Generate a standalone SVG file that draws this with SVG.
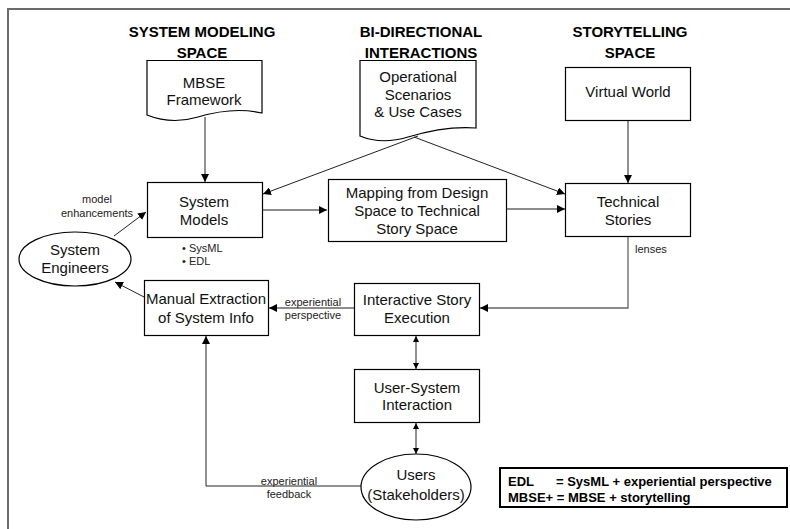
<svg xmlns="http://www.w3.org/2000/svg" width="790" height="529" viewBox="0 0 790 529">
  <style>
    .box { fill: #fff; stroke: #000; stroke-width: 1.2; }
    .lbl { font-family: "Liberation Sans", Arial, sans-serif; font-size: 15px; fill: #111; text-anchor: middle; }
    .hdr { font-family: "Liberation Sans", Arial, sans-serif; font-size: 15px; font-weight: bold; fill: #000; text-anchor: middle; }
    .small { font-family: "Liberation Sans", Arial, sans-serif; font-size: 11px; fill: #222; text-anchor: middle; }
    .start { text-anchor: start; }
    .leg { font-family: "Liberation Sans", Arial, sans-serif; font-size: 13px; font-weight: bold; fill: #000; }
    .conn { fill: none; stroke: #222; stroke-width: 1; }
    .grey { fill: none; stroke: #666; stroke-width: 1.3; }
  </style>
  <defs>
    <marker id="arr" viewBox="0 0 10 10" refX="10" refY="5" markerWidth="8" markerHeight="8" markerUnits="userSpaceOnUse" orient="auto">
      <path d="M0,0 L10,5 L0,10 Z" fill="#000"/>
    </marker>
    <marker id="arrSmall" viewBox="0 0 10 10" refX="10" refY="5" markerWidth="6" markerHeight="6" markerUnits="userSpaceOnUse" orient="auto">
      <path d="M0,0 L10,5 L0,10 Z" fill="#000"/>
    </marker>
    <marker id="arrSmallStart" viewBox="0 0 10 10" refX="0" refY="5" markerWidth="6" markerHeight="6" markerUnits="userSpaceOnUse" orient="auto">
      <path d="M10,0 L0,5 L10,10 Z" fill="#000"/>
    </marker>
  </defs>

  <rect width="790" height="529" fill="#fff"/>
  <!-- outer frame (open to the right and bottom) -->
  <path d="M790,9 H8 V529" fill="none" stroke="#6b6b6b" stroke-width="2"/>

  <!-- column headers -->
  <g id="headers">
    <text class="hdr" x="202" y="37">SYSTEM MODELING</text>
    <text class="hdr" x="202" y="58">SPACE</text>
    <text class="hdr" x="421" y="37">BI-DIRECTIONAL</text>
    <text class="hdr" x="421" y="58">INTERACTIONS</text>
    <text class="hdr" x="630" y="37">STORYTELLING</text>
    <text class="hdr" x="630" y="58">SPACE</text>
  </g>

  <!-- connectors -->
  <g id="connectors">
    <line class="conn" x1="205" y1="117" x2="205" y2="182" marker-end="url(#arr)"/>
    <line class="conn" x1="628" y1="120" x2="628" y2="183" marker-end="url(#arr)"/>
    <line class="conn" x1="418" y1="136" x2="263" y2="194" marker-end="url(#arr)"/>
    <line class="conn" x1="414" y1="137" x2="565" y2="194" marker-end="url(#arr)"/>
    <line class="grey" x1="263" y1="210" x2="327" y2="210" marker-end="url(#arr)"/>
    <line class="grey" x1="507" y1="209" x2="565" y2="209" marker-end="url(#arr)"/>
    <line class="conn" x1="114" y1="236" x2="146" y2="212" marker-end="url(#arr)"/>
    <line class="conn" x1="144" y1="297" x2="115" y2="282" marker-end="url(#arr)"/>
    <polyline class="grey" points="628,237 628,308 480,308" marker-end="url(#arr)"/>
    <line class="grey" x1="354" y1="308" x2="269" y2="308" marker-end="url(#arr)"/>
    <line class="conn" x1="416" y1="336" x2="416" y2="369" marker-start="url(#arrSmallStart)" marker-end="url(#arrSmall)"/>
    <line class="conn" x1="416" y1="423" x2="416" y2="454" marker-start="url(#arrSmallStart)" marker-end="url(#arrSmall)"/>
    <polyline class="conn" points="361,486 206,486 206,336" marker-end="url(#arr)"/>
  </g>

  <!-- connector labels -->
  <g id="connector-labels">
    <text class="small" x="97" y="203">model</text>
    <text class="small" x="97" y="217">enhancements</text>
    <text class="small" x="313" y="306">experiential</text>
    <text class="small" x="313" y="319">perspective</text>
    <text class="small start" x="635" y="253">lenses</text>
    <text class="small" x="289" y="485">experiential</text>
    <text class="small" x="289" y="498">feedback</text>
  </g>

  <g id="mbse-framework">
    <path class="box" d="M147,60.5 H262 V113 C240,108 218,111 198,117 C178,123 162,121 147,115 Z"/>
    <text class="lbl" x="204" y="88">MBSE</text>
    <text class="lbl" x="204" y="105">Framework</text>
  </g>

  <g id="operational-scenarios">
    <path class="box" d="M360,60.5 H476 V128 C450,126 428,131 408,137 C388,143 372,141 360,136 Z"/>
    <text class="lbl" x="418" y="82">Operational</text>
    <text class="lbl" x="418" y="100">Scenarios</text>
    <text class="lbl" x="418" y="117">&amp; Use Cases</text>
  </g>

  <g id="virtual-world">
    <rect class="box" x="565.5" y="67.5" width="125" height="53"/>
    <text class="lbl" x="628" y="97">Virtual World</text>
  </g>

  <g id="system-models">
    <rect class="box" x="147.5" y="182.5" width="115" height="55"/>
    <text class="lbl" x="204" y="207">System</text>
    <text class="lbl" x="204" y="225">Models</text>
  </g>

  <g id="system-models-notes">
    <text class="small start" x="182" y="252">• SysML</text>
    <text class="small start" x="182" y="265">• EDL</text>
  </g>

  <g id="mapping">
    <rect class="box" x="328.5" y="179.5" width="178" height="62"/>
    <text class="lbl" x="417" y="198">Mapping from Design</text>
    <text class="lbl" x="417" y="216">Space to Technical</text>
    <text class="lbl" x="417" y="234">Story Space</text>
  </g>

  <g id="technical-stories">
    <rect class="box" x="565.5" y="183.5" width="125" height="53"/>
    <text class="lbl" x="628" y="207">Technical</text>
    <text class="lbl" x="628" y="225">Stories</text>
  </g>

  <g id="system-engineers">
    <ellipse class="box" cx="75" cy="259" rx="56" ry="27"/>
    <text class="lbl" x="75" y="255">System</text>
    <text class="lbl" x="75" y="273">Engineers</text>
  </g>

  <g id="manual-extraction">
    <rect class="box" x="144.5" y="280.5" width="124" height="55"/>
    <text class="lbl" x="206" y="304">Manual Extraction</text>
    <text class="lbl" x="206" y="323">of System Info</text>
  </g>

  <g id="interactive-story">
    <rect class="box" x="354.5" y="283.5" width="125" height="52"/>
    <text class="lbl" x="417" y="305">Interactive Story</text>
    <text class="lbl" x="417" y="323">Execution</text>
  </g>

  <g id="user-system">
    <rect class="box" x="354.5" y="369.5" width="125" height="53"/>
    <text class="lbl" x="417" y="393">User-System</text>
    <text class="lbl" x="417" y="410">Interaction</text>
  </g>

  <g id="users">
    <ellipse class="box" cx="416" cy="487" rx="55" ry="33"/>
    <text class="lbl" x="416" y="480">Users</text>
    <text class="lbl" x="416" y="500">(Stakeholders)</text>
  </g>

  <g id="legend">
    <rect x="500" y="468" width="287" height="39" fill="#fff" stroke="#000" stroke-width="2"/>
    <text class="leg" x="508" y="486">EDL</text>
    <text class="leg" x="556" y="486">= SysML + experiential perspective</text>
    <text class="leg" x="508" y="502">MBSE+ = MBSE + storytelling</text>
  </g>
</svg>
